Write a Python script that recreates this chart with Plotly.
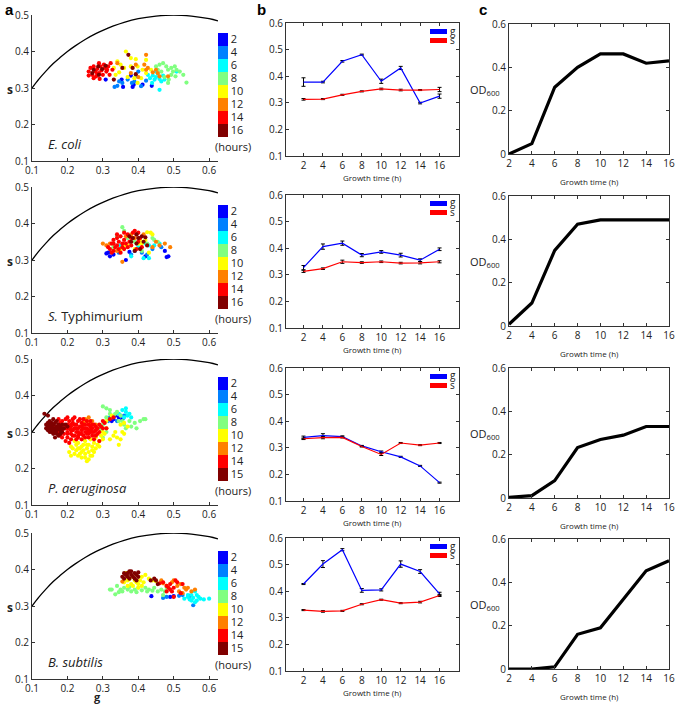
import plotly.graph_objects as go

W, H = 675, 704

# ---------------- data: panel a (phasor scatter, (g, s) pairs per growth hour) ----------------
HOUR_LABELS_1 = ["2", "4", "6", "8", "10", "12", "14", "16"]
HOUR_LABELS_2 = ["2", "4", "6", "8", "10", "12", "14", "15"]
JET8 = ["#0000ff", "#0080ff", "#00ffff", "#80ff80", "#ffff00", "#ff8000", "#ff0000", "#800000"]

# universal semicircle
CURVE_G = [0.1, 0.12, 0.14, 0.16, 0.18, 0.2, 0.22, 0.25, 0.28, 0.3, 0.33, 0.36, 0.4, 0.45, 0.5, 0.55, 0.6, 0.625]
CURVE_S = [0.300, 0.325, 0.347, 0.367, 0.384, 0.400, 0.414, 0.433, 0.449, 0.458, 0.470, 0.480, 0.490, 0.497, 0.500, 0.497, 0.490, 0.484]

ECOLI_2H = [(0.308, 0.323), (0.353, 0.323), (0.357, 0.303), (0.384, 0.303), (0.387, 0.309), (0.412, 0.309), (0.438, 0.306), (0.379, 0.334)]
ECOLI_4H = [(0.333, 0.303), (0.341, 0.306), (0.355, 0.314), (0.370, 0.323), (0.382, 0.314), (0.393, 0.332), (0.400, 0.345), (0.408, 0.305), (0.389, 0.318), (0.422, 0.320), (0.346, 0.318)]
ECOLI_6H = [(0.427, 0.336), (0.433, 0.327), (0.441, 0.334), (0.446, 0.323), (0.450, 0.330), (0.455, 0.339), (0.460, 0.325), (0.465, 0.318), (0.470, 0.334), (0.439, 0.314), (0.460, 0.295), (0.508, 0.345), (0.474, 0.323), (0.450, 0.345)]
ECOLI_8H = [(0.450, 0.359), (0.460, 0.364), (0.470, 0.368), (0.479, 0.359), (0.484, 0.350), (0.493, 0.355), (0.498, 0.345), (0.508, 0.350), (0.517, 0.345), (0.527, 0.336), (0.536, 0.315), (0.484, 0.314), (0.474, 0.330), (0.465, 0.345), (0.493, 0.336), (0.505, 0.332), (0.455, 0.350), (0.486, 0.323), (0.503, 0.359)]
ECOLI_10H = [(0.365, 0.400), (0.379, 0.382), (0.393, 0.379), (0.422, 0.377), (0.341, 0.373), (0.331, 0.355), (0.360, 0.355), (0.379, 0.359), (0.398, 0.359), (0.412, 0.350), (0.422, 0.341), (0.336, 0.336), (0.370, 0.330), (0.389, 0.327), (0.408, 0.327), (0.350, 0.364), (0.398, 0.314), (0.346, 0.343), (0.436, 0.350)]
ECOLI_12H = [(0.422, 0.391), (0.393, 0.364), (0.417, 0.364), (0.427, 0.355), (0.450, 0.350), (0.455, 0.341), (0.460, 0.332), (0.484, 0.332), (0.341, 0.368), (0.400, 0.330), (0.441, 0.343), (0.422, 0.350), (0.379, 0.341)]
ECOLI_14H = [(0.260, 0.345), (0.265, 0.355), (0.270, 0.336), (0.274, 0.359), (0.279, 0.345), (0.281, 0.332), (0.284, 0.352), (0.289, 0.341), (0.293, 0.359), (0.296, 0.348), (0.300, 0.336), (0.306, 0.355), (0.310, 0.345), (0.315, 0.359), (0.319, 0.336), (0.291, 0.325), (0.289, 0.368), (0.274, 0.327), (0.327, 0.350), (0.303, 0.364), (0.322, 0.368), (0.260, 0.334), (0.284, 0.339), (0.312, 0.350)]
ECOLI_16H = [(0.274, 0.350), (0.287, 0.359), (0.298, 0.352), (0.308, 0.361), (0.289, 0.336), (0.372, 0.391), (0.384, 0.355), (0.393, 0.338), (0.331, 0.323), (0.355, 0.355), (0.270, 0.341)]

STYPH_2H = [(0.310, 0.318), (0.315, 0.320), (0.320, 0.310), (0.330, 0.315), (0.365, 0.300), (0.420, 0.310), (0.475, 0.325), (0.480, 0.308), (0.485, 0.310), (0.375, 0.322)]
STYPH_4H = [(0.345, 0.320), (0.390, 0.325), (0.410, 0.320), (0.440, 0.330), (0.465, 0.335), (0.380, 0.315), (0.425, 0.315)]
STYPH_6H = [(0.420, 0.345), (0.430, 0.340), (0.445, 0.340), (0.460, 0.345), (0.380, 0.310), (0.415, 0.305), (0.430, 0.305), (0.400, 0.335), (0.350, 0.340)]
STYPH_8H = [(0.355, 0.390), (0.360, 0.380), (0.340, 0.365), (0.440, 0.360), (0.445, 0.355), (0.390, 0.350), (0.330, 0.335), (0.425, 0.345), (0.370, 0.360), (0.455, 0.350), (0.410, 0.325)]
STYPH_10H = [(0.425, 0.376), (0.435, 0.375), (0.440, 0.370), (0.385, 0.360), (0.400, 0.345), (0.370, 0.340), (0.405, 0.355), (0.430, 0.320), (0.360, 0.340), (0.420, 0.355), (0.350, 0.330), (0.390, 0.330), (0.410, 0.345)]
STYPH_12H = [(0.300, 0.345), (0.310, 0.340), (0.490, 0.335), (0.475, 0.345), (0.355, 0.295), (0.380, 0.370), (0.390, 0.360), (0.440, 0.335), (0.450, 0.350), (0.340, 0.325), (0.365, 0.365), (0.415, 0.370), (0.460, 0.340), (0.320, 0.345)]
STYPH_14H = [(0.320, 0.330), (0.325, 0.345), (0.330, 0.325), (0.330, 0.355), (0.335, 0.335), (0.340, 0.360), (0.340, 0.340), (0.345, 0.330), (0.345, 0.350), (0.350, 0.365), (0.350, 0.320), (0.355, 0.345), (0.355, 0.335), (0.360, 0.355), (0.360, 0.330), (0.365, 0.345), (0.370, 0.335), (0.370, 0.370), (0.375, 0.350), (0.380, 0.340), (0.385, 0.375), (0.390, 0.380), (0.395, 0.370), (0.400, 0.350), (0.405, 0.360), (0.410, 0.335), (0.340, 0.370), (0.330, 0.345), (0.325, 0.320), (0.360, 0.375), (0.380, 0.360), (0.395, 0.330), (0.315, 0.335), (0.400, 0.375)]
STYPH_16H = [(0.375, 0.365), (0.385, 0.360), (0.395, 0.370), (0.400, 0.360), (0.410, 0.365), (0.420, 0.362), (0.425, 0.340), (0.395, 0.345), (0.380, 0.350), (0.405, 0.330), (0.390, 0.325), (0.415, 0.350)]

PAER_2H = [(0.325, 0.330), (0.330, 0.335), (0.345, 0.340), (0.355, 0.335), (0.335, 0.345)]
PAER_4H = [(0.320, 0.340), (0.340, 0.330), (0.360, 0.345), (0.350, 0.345), (0.315, 0.330)]
PAER_6H = [(0.355, 0.360), (0.365, 0.355), (0.360, 0.340), (0.370, 0.345), (0.375, 0.350), (0.345, 0.350), (0.380, 0.340), (0.365, 0.365)]
PAER_8H = [(0.300, 0.370), (0.310, 0.365), (0.320, 0.350), (0.330, 0.345), (0.340, 0.355), (0.350, 0.345), (0.310, 0.340), (0.320, 0.360), (0.335, 0.350), (0.345, 0.330), (0.360, 0.320), (0.375, 0.330), (0.390, 0.325), (0.405, 0.330), (0.415, 0.335), (0.420, 0.335), (0.380, 0.315), (0.300, 0.320), (0.295, 0.305), (0.310, 0.300), (0.325, 0.340), (0.355, 0.330), (0.365, 0.310), (0.395, 0.310), (0.290, 0.310), (0.280, 0.290), (0.300, 0.285)]
PAER_10H = [(0.205, 0.245), (0.210, 0.260), (0.215, 0.255), (0.220, 0.240), (0.225, 0.265), (0.225, 0.250), (0.230, 0.235), (0.230, 0.270), (0.235, 0.255), (0.240, 0.245), (0.240, 0.260), (0.240, 0.230), (0.245, 0.265), (0.245, 0.250), (0.250, 0.240), (0.250, 0.275), (0.255, 0.255), (0.255, 0.220), (0.260, 0.245), (0.260, 0.265), (0.265, 0.235), (0.265, 0.280), (0.270, 0.250), (0.270, 0.260), (0.275, 0.270), (0.280, 0.255), (0.280, 0.285), (0.285, 0.265), (0.290, 0.275), (0.295, 0.290), (0.300, 0.280), (0.305, 0.295), (0.310, 0.310), (0.320, 0.280), (0.330, 0.290), (0.335, 0.300), (0.340, 0.285), (0.345, 0.265), (0.350, 0.280), (0.355, 0.300), (0.360, 0.295), (0.370, 0.315), (0.310, 0.330), (0.325, 0.345), (0.350, 0.320), (0.360, 0.325), (0.220, 0.275), (0.235, 0.240), (0.250, 0.230), (0.210, 0.235), (0.245, 0.280), (0.260, 0.225), (0.275, 0.245), (0.290, 0.260), (0.300, 0.300), (0.230, 0.255), (0.255, 0.265), (0.270, 0.235)]
PAER_12H = [(0.250, 0.335), (0.255, 0.330), (0.260, 0.340), (0.265, 0.325), (0.270, 0.330), (0.245, 0.325), (0.280, 0.320)]
PAER_14H = [(0.170, 0.300), (0.175, 0.315), (0.180, 0.290), (0.180, 0.325), (0.185, 0.305), (0.190, 0.295), (0.190, 0.320), (0.195, 0.310), (0.195, 0.335), (0.200, 0.300), (0.200, 0.285), (0.200, 0.320), (0.205, 0.310), (0.205, 0.330), (0.210, 0.295), (0.210, 0.315), (0.210, 0.280), (0.215, 0.305), (0.215, 0.325), (0.220, 0.290), (0.220, 0.310), (0.220, 0.340), (0.225, 0.300), (0.225, 0.320), (0.230, 0.285), (0.230, 0.310), (0.230, 0.330), (0.235, 0.295), (0.235, 0.315), (0.240, 0.305), (0.240, 0.325), (0.240, 0.280), (0.245, 0.290), (0.245, 0.310), (0.250, 0.300), (0.250, 0.320), (0.250, 0.285), (0.255, 0.310), (0.255, 0.295), (0.260, 0.305), (0.260, 0.320), (0.260, 0.285), (0.265, 0.300), (0.265, 0.315), (0.270, 0.290), (0.270, 0.310), (0.275, 0.300), (0.275, 0.320), (0.280, 0.305), (0.280, 0.290), (0.285, 0.310), (0.290, 0.300), (0.290, 0.320), (0.185, 0.285), (0.195, 0.275), (0.205, 0.270), (0.215, 0.290), (0.225, 0.280), (0.235, 0.335), (0.245, 0.335), (0.255, 0.330), (0.265, 0.330), (0.200, 0.340), (0.190, 0.310), (0.175, 0.300), (0.210, 0.305), (0.230, 0.300), (0.250, 0.310), (0.270, 0.300), (0.280, 0.315), (0.220, 0.320), (0.240, 0.295), (0.260, 0.295), (0.300, 0.330), (0.305, 0.325), (0.320, 0.335), (0.330, 0.340), (0.310, 0.310), (0.295, 0.315), (0.285, 0.295), (0.165, 0.315), (0.175, 0.335), (0.185, 0.330), (0.215, 0.335), (0.200, 0.310), (0.225, 0.310), (0.245, 0.320), (0.265, 0.305), (0.290, 0.275), (0.275, 0.280), (0.240, 0.315), (0.210, 0.320), (0.200, 0.295), (0.230, 0.290), (0.255, 0.300), (0.270, 0.320), (0.300, 0.310)]
PAER_15H = [(0.140, 0.310), (0.140, 0.320), (0.145, 0.305), (0.145, 0.315), (0.145, 0.345), (0.150, 0.300), (0.150, 0.310), (0.150, 0.320), (0.150, 0.330), (0.155, 0.305), (0.155, 0.315), (0.155, 0.325), (0.160, 0.295), (0.160, 0.310), (0.160, 0.320), (0.160, 0.335), (0.165, 0.300), (0.165, 0.310), (0.165, 0.325), (0.170, 0.305), (0.170, 0.315), (0.170, 0.330), (0.175, 0.310), (0.175, 0.320), (0.175, 0.290), (0.180, 0.305), (0.180, 0.315), (0.185, 0.300), (0.185, 0.320), (0.190, 0.310), (0.195, 0.320), (0.200, 0.315), (0.155, 0.300), (0.165, 0.285), (0.170, 0.295), (0.180, 0.295), (0.135, 0.350), (0.145, 0.325), (0.160, 0.305), (0.185, 0.310)]

BSUB_2H = [(0.437, 0.327), (0.500, 0.327), (0.545, 0.328), (0.490, 0.325)]
BSUB_4H = [(0.470, 0.322), (0.480, 0.325), (0.515, 0.328), (0.555, 0.302), (0.525, 0.330)]
BSUB_6H = [(0.530, 0.320), (0.540, 0.325), (0.545, 0.318), (0.550, 0.330), (0.555, 0.322), (0.560, 0.340), (0.565, 0.330), (0.565, 0.315), (0.570, 0.325), (0.575, 0.320), (0.585, 0.318), (0.600, 0.320), (0.560, 0.310), (0.550, 0.315), (0.540, 0.330)]
BSUB_8H = [(0.320, 0.345), (0.325, 0.345), (0.335, 0.332), (0.340, 0.355), (0.350, 0.345), (0.355, 0.340), (0.360, 0.350), (0.370, 0.345), (0.375, 0.352), (0.380, 0.340), (0.390, 0.345), (0.400, 0.350), (0.410, 0.343), (0.420, 0.350), (0.430, 0.345), (0.440, 0.342), (0.445, 0.350), (0.455, 0.340), (0.465, 0.345), (0.475, 0.340), (0.480, 0.350), (0.470, 0.330), (0.395, 0.338), (0.345, 0.338), (0.425, 0.340)]
BSUB_10H = [(0.360, 0.365), (0.370, 0.370), (0.375, 0.375), (0.380, 0.360), (0.385, 0.355), (0.390, 0.370), (0.395, 0.365), (0.400, 0.360), (0.405, 0.370), (0.410, 0.380), (0.415, 0.365), (0.420, 0.385), (0.430, 0.375), (0.440, 0.370), (0.385, 0.380), (0.370, 0.355), (0.400, 0.350), (0.365, 0.390), (0.410, 0.355), (0.450, 0.368)]
BSUB_12H = [(0.355, 0.367), (0.465, 0.370), (0.470, 0.362), (0.495, 0.365), (0.500, 0.370), (0.510, 0.355), (0.520, 0.360), (0.530, 0.350), (0.535, 0.345), (0.540, 0.350), (0.550, 0.340), (0.560, 0.345), (0.525, 0.335), (0.480, 0.355), (0.515, 0.340)]
BSUB_14H = [(0.460, 0.362), (0.470, 0.365), (0.480, 0.355), (0.485, 0.350), (0.490, 0.345), (0.495, 0.340), (0.500, 0.350), (0.505, 0.370), (0.510, 0.365), (0.520, 0.335), (0.525, 0.360), (0.490, 0.360), (0.500, 0.325), (0.480, 0.340)]
BSUB_15H = [(0.355, 0.380), (0.360, 0.390), (0.365, 0.385), (0.370, 0.380), (0.370, 0.390), (0.375, 0.375), (0.380, 0.385), (0.385, 0.380), (0.390, 0.390), (0.395, 0.385), (0.400, 0.380), (0.390, 0.375), (0.360, 0.375), (0.380, 0.395), (0.395, 0.370), (0.400, 0.392), (0.435, 0.370), (0.445, 0.375), (0.450, 0.370), (0.455, 0.360), (0.375, 0.395)]

# ---------------- data: panel b (mean g and s with error bars) ----------------
TIME_H = [2, 4, 6, 8, 10, 12, 14, 16]

ECOLI_G = [0.378, 0.378, 0.456, 0.481, 0.381, 0.431, 0.299, 0.325]
ECOLI_G_ERR = [0.016, 0.003, 0.003, 0.002, 0.008, 0.006, 0.003, 0.008]
ECOLI_S = [0.313, 0.314, 0.330, 0.343, 0.352, 0.348, 0.348, 0.350]
ECOLI_S_ERR = [0.003, 0.002, 0.002, 0.002, 0.003, 0.003, 0.002, 0.008]

STYPH_G = [0.327, 0.406, 0.419, 0.374, 0.386, 0.374, 0.355, 0.396]
STYPH_G_ERR = [0.008, 0.010, 0.008, 0.006, 0.005, 0.007, 0.005, 0.005]
STYPH_S = [0.313, 0.323, 0.349, 0.346, 0.349, 0.344, 0.345, 0.349]
STYPH_S_ERR = [0.004, 0.003, 0.006, 0.003, 0.003, 0.003, 0.004, 0.004]

PAER_G = [0.339, 0.346, 0.342, 0.307, 0.285, 0.266, 0.232, 0.169]
PAER_G_ERR = [0.005, 0.007, 0.003, 0.002, 0.003, 0.002, 0.002, 0.002]
PAER_S = [0.334, 0.338, 0.339, 0.305, 0.275, 0.318, 0.310, 0.318]
PAER_S_ERR = [0.003, 0.004, 0.002, 0.002, 0.004, 0.002, 0.002, 0.002]

BSUB_G = [0.427, 0.502, 0.556, 0.403, 0.405, 0.502, 0.474, 0.390]
BSUB_G_ERR = [0.002, 0.013, 0.004, 0.007, 0.004, 0.012, 0.007, 0.006]
BSUB_S = [0.329, 0.324, 0.326, 0.351, 0.368, 0.355, 0.359, 0.384]
BSUB_S_ERR = [0.002, 0.003, 0.002, 0.002, 0.002, 0.002, 0.003, 0.004]

# ---------------- data: panel c (OD600 growth curves) ----------------
ECOLI_OD = [0.000, 0.048, 0.308, 0.400, 0.462, 0.462, 0.419, 0.430]
STYPH_OD = [0.008, 0.106, 0.349, 0.470, 0.490, 0.490, 0.490, 0.490]
PAER_OD = [0.003, 0.011, 0.080, 0.233, 0.270, 0.290, 0.330, 0.330]
BSUB_OD = [0.000, 0.000, 0.010, 0.160, 0.190, 0.320, 0.453, 0.500]

SPECIES_HTML = ["<i>E. coli</i>", "<i>S.</i> Typhimurium", "<i>P. aeruginosa</i>", "<i>B. subtilis</i>"]

SCATTER_GROUPS = [
    [ECOLI_2H, ECOLI_4H, ECOLI_6H, ECOLI_8H, ECOLI_10H, ECOLI_12H, ECOLI_14H, ECOLI_16H],
    [STYPH_2H, STYPH_4H, STYPH_6H, STYPH_8H, STYPH_10H, STYPH_12H, STYPH_14H, STYPH_16H],
    [PAER_2H, PAER_4H, PAER_6H, PAER_8H, PAER_10H, PAER_12H, PAER_14H, PAER_15H],
    [BSUB_2H, BSUB_4H, BSUB_6H, BSUB_8H, BSUB_10H, BSUB_12H, BSUB_14H, BSUB_15H],
]
HOUR_LABELS = [HOUR_LABELS_1, HOUR_LABELS_1, HOUR_LABELS_2, HOUR_LABELS_2]
MEANS = [
    (ECOLI_G, ECOLI_G_ERR, ECOLI_S, ECOLI_S_ERR),
    (STYPH_G, STYPH_G_ERR, STYPH_S, STYPH_S_ERR),
    (PAER_G, PAER_G_ERR, PAER_S, PAER_S_ERR),
    (BSUB_G, BSUB_G_ERR, BSUB_S, BSUB_S_ERR),
]
ODS = [ECOLI_OD, STYPH_OD, PAER_OD, BSUB_OD]

# ---------------- layout geometry (pixels) ----------------
A_X = (32, 218)
B_X = (286, 459)
C_X = (509, 669)
A_TOPS = [15, 187, 359, 533]
A_HT = 146
B_TOPS = [23, 195, 368, 538]
B_HT = 133
C_TOPS = [24, 196, 368, 539]
C_HT = 130

FONT = "Open Sans"
TXT = "#222222"


def px_x(p):
    return p / W


def px_y(p):
    return 1 - p / H


def dom_x(a, b):
    return [a / W, b / W]


def dom_y(top, ht):
    return [1 - (top + ht) / H, 1 - top / H]


def note(text, xp, yp, size, xanchor="center", color=TXT, family=None):
    f = dict(size=size, color=color)
    if family:
        f["family"] = family
    return dict(text=text, x=px_x(xp), y=px_y(yp), xref="paper", yref="paper", xanchor=xanchor,
                yanchor="middle", showarrow=False, font=f)


# colorscale with 8 discrete bins over [1, 17]; bin centres 2..16.
# the first hour (blue) sits at the top of the bar
cs = []
for k in range(8):
    col = JET8[7 - k]
    cs.append([k / 8, col])
    cs.append([(k + 1) / 8, col])
BIN_VALS = [16 - 2 * k for k in range(8)]

fig = go.Figure()
layout = dict(
    width=W, height=H, margin=dict(l=0, r=0, t=0, b=0, autoexpand=False),
    paper_bgcolor="white", plot_bgcolor="white", showlegend=False,
    font=dict(family=FONT, size=10, color=TXT),
)
annotations = []
shapes = []

axis_common = dict(showgrid=False, zeroline=False, showline=True, linecolor="#333333", linewidth=1,
                   ticks="inside", ticklen=3, tickcolor="#333333", automargin=False,
                   ticklabeloverflow="allow", tickfont=dict(size=10, color=TXT))

for r in range(4):
    ia, ib, ic = 3 * r + 1, 3 * r + 2, 3 * r + 3

    def nm(i, axis):
        return f"{axis}axis" if i == 1 else f"{axis}axis{i}"

    def ref(i, axis):
        return axis if i == 1 else f"{axis}{i}"

    # ---- panel a ----
    layout[nm(ia, "x")] = dict(axis_common, domain=dom_x(*A_X), anchor=ref(ia, "y"), range=[0.1, 0.625],
                               tickvals=[0.1, 0.2, 0.3, 0.4, 0.5, 0.6], mirror=False)
    layout[nm(ia, "y")] = dict(axis_common, domain=dom_y(A_TOPS[r], A_HT), anchor=ref(ia, "x"), range=[0.1, 0.5],
                               tickvals=[0.1, 0.2, 0.3, 0.4, 0.5], mirror=False)
    fig.add_trace(go.Scatter(x=CURVE_G, y=CURVE_S, mode="lines", line=dict(color="black", width=1.3, shape="spline"),
                             xaxis=ref(ia, "x"), yaxis=ref(ia, "y"), hoverinfo="skip"))
    gx, sy, cv = [], [], []
    for k, grp in enumerate(SCATTER_GROUPS[r]):
        for (g, s) in grp:
            gx.append(g)
            sy.append(s)
            cv.append(BIN_VALS[k])
    top = A_TOPS[r]
    fig.add_trace(go.Scatter(
        x=gx, y=sy, mode="markers", xaxis=ref(ia, "x"), yaxis=ref(ia, "y"),
        marker=dict(size=4.2, color=cv, colorscale=cs, cmin=1, cmax=17, line=dict(width=0),
                    showscale=True,
                    colorbar=dict(x=px_x(A_X[1]), xanchor="left", xpad=0, ypad=0,
                                  y=px_y(top + 70), yanchor="middle", lenmode="pixels", len=104,
                                  thicknessmode="pixels", thickness=10, outlinewidth=0,
                                  tickvals=BIN_VALS, ticktext=HOUR_LABELS[r],
                                  ticks="", tickfont=dict(size=11, color=TXT, family=FONT))),
    ))
    annotations.append(note("(hours)", 233, top + 131, 11))
    annotations.append(note(SPECIES_HTML[r], 46, top + 129, 13, xanchor="left"))
    annotations.append(note("<b>s</b>", 10, top + 74, 12))

    # ---- panel b ----
    layout[nm(ib, "x")] = dict(axis_common, domain=dom_x(*B_X), anchor=ref(ib, "y"), range=[0.2, 18],
                               tickvals=TIME_H, mirror="ticks")
    layout[nm(ib, "y")] = dict(axis_common, domain=dom_y(B_TOPS[r], B_HT), anchor=ref(ib, "x"), range=[0.1, 0.6],
                               tickvals=[0.1, 0.2, 0.3, 0.4, 0.5, 0.6], mirror="ticks")
    gm, ge, sm, se = MEANS[r]
    fig.add_trace(go.Scatter(x=TIME_H, y=gm, mode="lines", line=dict(color="#0000ff", width=1.2),
                             error_y=dict(type="data", array=ge, color="black", thickness=1, width=2),
                             xaxis=ref(ib, "x"), yaxis=ref(ib, "y"), name="g"))
    fig.add_trace(go.Scatter(x=TIME_H, y=sm, mode="lines", line=dict(color="#ff0000", width=1.2),
                             error_y=dict(type="data", array=se, color="black", thickness=1, width=2),
                             xaxis=ref(ib, "x"), yaxis=ref(ib, "y"), name="s"))
    bt = B_TOPS[r]
    for j, (lab, col) in enumerate([("g", "#0000ff"), ("s", "#ff0000")]):
        yc = bt + 8.5 + 9 * j
        shapes.append(dict(type="rect", xref="paper", yref="paper", x0=px_x(430), x1=px_x(447),
                           y0=px_y(yc + 2.5), y1=px_y(yc - 2.5), fillcolor=col, line=dict(width=0)))
        annotations.append(note(lab, 447.5, yc - 1, 10, xanchor="left"))
    annotations.append(note("Growth time (h)", (B_X[0] + B_X[1]) / 2, bt + B_HT + 21, 8))

    # ---- panel c ----
    layout[nm(ic, "x")] = dict(axis_common, domain=dom_x(*C_X), anchor=ref(ic, "y"), range=[2, 16],
                               tickvals=TIME_H, mirror="ticks")
    layout[nm(ic, "y")] = dict(axis_common, domain=dom_y(C_TOPS[r], C_HT), anchor=ref(ic, "x"), range=[0, 0.6],
                               tickvals=[0, 0.2, 0.4, 0.6], ticktext=["0", "0.2", "0.4", "0.6"], mirror="ticks")
    fig.add_trace(go.Scatter(x=TIME_H, y=ODS[r], mode="lines", line=dict(color="black", width=3.2),
                             xaxis=ref(ic, "x"), yaxis=ref(ic, "y")))
    ct = C_TOPS[r]
    annotations.append(note("OD<sub>600</sub>", 485, ct + 66, 11))
    annotations.append(note("Growth time (h)", (C_X[0] + C_X[1]) / 2, ct + C_HT + 27, 8))

annotations.append(note("<b>g</b>", 97, 696, 11))
for lab, xp, yp in [("a", 9, 9), ("b", 261, 9), ("c", 483, 9)]:
    annotations.append(note(f"<b>{lab}</b>", xp, yp, 15, color="black", family="Liberation Sans"))

layout["annotations"] = annotations
layout["shapes"] = shapes
fig.update_layout(**layout)
fig.write_html("out.html", config={"displayModeBar": False},
               post_script="document.body.style.margin='0px';")
